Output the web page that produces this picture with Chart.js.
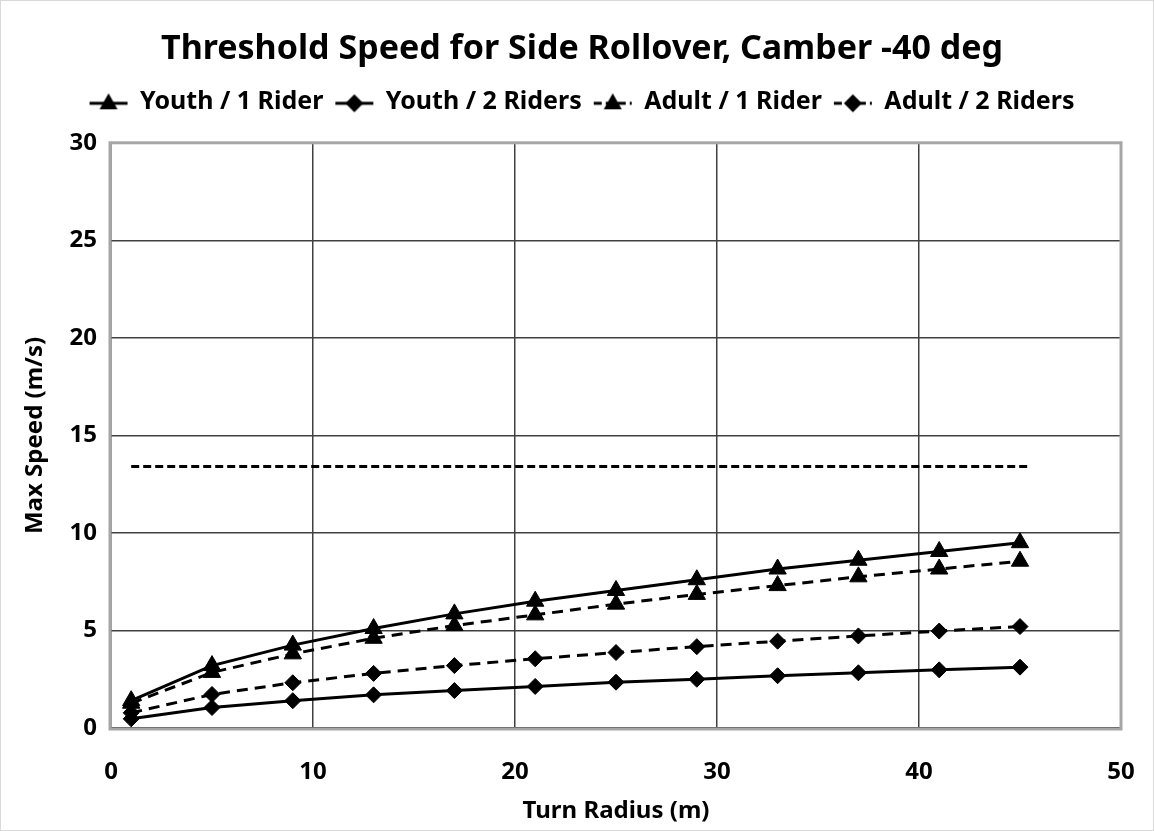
<!DOCTYPE html>
<html>
<head>
<meta charset="utf-8">
<script src="https://cdn.jsdelivr.net/npm/chart.js@4.4.0/dist/chart.umd.min.js"></script>
<style>
  html, body { margin: 0; padding: 0; background: #fff; }
  #wrap { width: 1152px; height: 829px; border: 1px solid #d9d9d9; }
</style>
</head>
<body>
<div id="wrap"><canvas id="chartjs-0" width="1152" height="829"></canvas></div>
<script>
"use strict";

var radius = [1, 5, 9, 13, 17, 21, 25, 29, 33, 37, 41, 45];
var youth1 = [1.4, 3.2, 4.25, 5.1, 5.85, 6.5, 7.05, 7.6, 8.15, 8.6, 9.05, 9.5];
var youth2 = [0.47, 1.05, 1.4, 1.7, 1.92, 2.13, 2.35, 2.5, 2.68, 2.83, 2.98, 3.12];
var adult1 = [1.27, 2.85, 3.8, 4.6, 5.25, 5.8, 6.35, 6.85, 7.3, 7.75, 8.15, 8.55];
var adult2 = [0.78, 1.72, 2.32, 2.8, 3.2, 3.55, 3.87, 4.17, 4.45, 4.72, 4.97, 5.2];
var thresholdX = [1, 45.5];
var thresholdY = [13.4, 13.4];
var yTicks = [0, 5, 10, 15, 20, 25, 30];
var xTicks = [0, 10, 20, 30, 40, 50];

var FONT = "'Noto Sans', sans-serif";

function pts(xs, ys) {
    var out = [];
    for (var i = 0; i < xs.length; i++) { out.push({x: xs[i], y: ys[i]}); }
    return out;
}

// little legend pictures: line with marker in the middle
function legendIcon(style, dashed) {
    var c = document.createElement("canvas");
    c.width = 40; c.height = 22;
    var g = c.getContext("2d");
    g.strokeStyle = "#000";
    g.lineWidth = 3;
    if (dashed) { g.setLineDash([8, 4]); }
    g.beginPath(); g.moveTo(1, 12); g.lineTo(39, 12); g.stroke();
    g.setLineDash([]);
    g.fillStyle = "#000";
    g.beginPath();
    if (style === "triangle") {
        g.moveTo(20, 2); g.lineTo(29, 18); g.lineTo(11, 18);
    } else {
        g.moveTo(20, 3); g.lineTo(29, 12); g.lineTo(20, 21); g.lineTo(11, 12);
    }
    g.closePath(); g.fill();
    return c;
}

var icons = [legendIcon("triangle", false), legendIcon("diamond", false),
             legendIcon("triangle", true), legendIcon("diamond", true)];

var frame = {
    id: "frame",
    afterDraw: function (chart) {
        var a = chart.chartArea, g = chart.ctx;
        g.save();
        g.strokeStyle = "#a6a6a6";
        g.lineWidth = 3;
        g.strokeRect(a.left - 1, a.top, a.right - a.left + 1, a.bottom - a.top + 1);
        g.restore();
    }
};

// extra room under the legend
var legendGap = {
    id: "legendGap",
    beforeInit: function (chart) {
        var oldFit = chart.legend.fit;
        chart.legend.fit = function () {
            oldFit.call(this);
            this.height += 18;
        };
    }
};

function series(label, ys, style, dashed, r) {
    return {
        label: label,
        data: pts(radius, ys),
        borderColor: "#000",
        backgroundColor: "#000",
        borderWidth: 3,
        borderDash: dashed ? [11, 7] : [],
        pointStyle: style,
        pointRadius: r,
        pointBorderWidth: 1,
        pointHoverRadius: r,
        fill: false,
        tension: 0
    };
}

var ctx0 = document.getElementById("chartjs-0");
var myChart = new Chart(ctx0, {
    type: "scatter",
    data: {
        datasets: [
            series("Youth / 1 Rider", youth1, "triangle", false, 10),
            series("Youth / 2 Riders", youth2, "rectRot", false, 8),
            series("Adult / 1 Rider", adult1, "triangle", true, 10),
            series("Adult / 2 Riders", adult2, "rectRot", true, 8),
            {
                label: "threshold",
                data: pts(thresholdX, thresholdY),
                borderColor: "#000",
                borderWidth: 3,
                borderDash: [8, 4],
                pointRadius: 0,
                showLine: true,
                fill: false
            }
        ]
    },
    options: {
        responsive: false,
        animation: false,
        showLine: true,
        layout: { padding: { left: 20, right: 10, top: 18, bottom: 4 } },
        plugins: {
            tooltip: { enabled: false },
            title: {
                display: true,
                text: "Threshold Speed for Side Rollover, Camber -40 deg",
                color: "#000",
                font: { family: FONT, size: 34, weight: "bold" },
                padding: { top: 10, bottom: 8 }
            },
            legend: {
                display: true,
                labels: {
                    color: "#000",
                    font: { family: FONT, size: 25, weight: "bold" },
                    usePointStyle: true,
                    pointStyleWidth: 38,
                    boxHeight: 22,
                    padding: 12,
                    filter: function (item) { return item.datasetIndex < 4; },
                    generateLabels: function (chart) {
                        return chart.data.datasets.map(function (ds, i) {
                            return {
                                text: ds.label,
                                pointStyle: icons[i] || "line",
                                fillStyle: "#000",
                                strokeStyle: "#000",
                                lineWidth: 0,
                                fontColor: "#000",
                                hidden: false,
                                datasetIndex: i
                            };
                        });
                    }
                }
            }
        },
        scales: {
            x: {
                type: "linear",
                min: 0, max: 50,
                afterBuildTicks: function (axis) {
                    axis.ticks = xTicks.map(function (v) { return {value: v}; });
                },
                afterFit: function (axis) {
                    axis.height = 98;
                    axis.paddingRight = 32;
                    axis.paddingLeft = 0;
                },
                grid: { color: "#404040", lineWidth: 1.5, drawTicks: false },
                border: { display: false },
                ticks: { color: "#000", padding: 30, font: { family: FONT, size: 24, weight: "bold" } },
                title: {
                    display: true,
                    text: "Turn Radius (m)",
                    color: "#000",
                    font: { family: FONT, size: 24, weight: "bold" },
                    padding: { top: 4, bottom: 0 }
                }
            },
            y: {
                type: "linear",
                min: 0, max: 30,
                afterBuildTicks: function (axis) {
                    axis.ticks = yTicks.map(function (v) { return {value: v}; });
                },
                afterFit: function (axis) { axis.width = 90; },
                grid: { color: "#404040", lineWidth: 1.5, drawTicks: false },
                border: { display: false },
                ticks: { color: "#000", padding: 14, font: { family: FONT, size: 24, weight: "bold" } },
                title: {
                    display: true,
                    text: "Max Speed (m/s)",
                    color: "#000",
                    font: { family: FONT, size: 24, weight: "bold" },
                    padding: { top: 0, bottom: 4 }
                }
            }
        }
    },
    plugins: [frame, legendGap]
});
</script>
</body>
</html>
